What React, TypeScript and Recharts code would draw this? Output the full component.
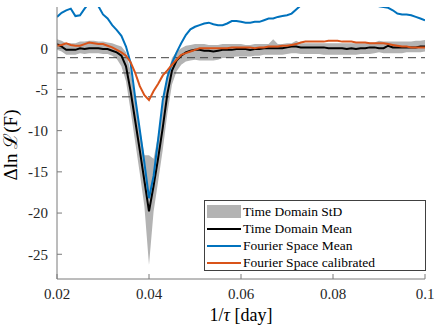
import {
  Area,
  ComposedChart,
  Label,
  Legend,
  Line,
  ReferenceLine,
  XAxis,
  YAxis,
} from "recharts";

// 1/tau grid [day]
const invTau = [
  0.02, 0.021, 0.022, 0.023, 0.024, 0.025, 0.026, 0.027, 0.028, 0.029,
  0.03, 0.031, 0.032, 0.033, 0.034, 0.035, 0.036, 0.037, 0.038, 0.039,
  0.04, 0.041, 0.042, 0.043, 0.044, 0.045, 0.046, 0.047, 0.048, 0.049,
  0.05, 0.051, 0.052, 0.053, 0.054, 0.055, 0.056, 0.057, 0.058, 0.059,
  0.06, 0.061, 0.062, 0.063, 0.064, 0.065, 0.066, 0.067, 0.068, 0.069,
  0.07, 0.071, 0.072, 0.073, 0.074, 0.075, 0.076, 0.077, 0.078, 0.079,
  0.08, 0.081, 0.082, 0.083, 0.084, 0.085, 0.086, 0.087, 0.088, 0.089,
  0.09, 0.091, 0.092, 0.093, 0.094, 0.095, 0.096, 0.097, 0.098, 0.099,
  0.1,
];

const timeDomainMean = [
  0.5, 0.2, -0.2, -0.2, -0.2, 0.0, -0.1, 0.0, 0.0, 0.0,
  -0.1, -0.1, -0.3, -0.5, -0.9, -2.2, -5.2, -8.8, -12.4, -16.1,
  -19.8, -16.7, -13.3, -9.6, -5.5, -2.7, -1.5, -0.9, -0.5, -0.3,
  -0.2, -0.2, -0.3, -0.3, -0.4, -0.3, -0.2, -0.2, -0.2, -0.1,
  -0.1, -0.1, -0.2, -0.1, -0.1, 0.0, 0.0, 0.0, 0.0, 0.0,
  0.1, 0.2, 0.2, 0.1, 0.1, 0.1, 0.1, 0.1, 0.1, 0.0,
  0.0, 0.0, 0.0, -0.1, 0.0, -0.1, 0.0, 0.0, 0.1, 0.1,
  0.0, 0.0, 0.3, 0.1, 0.1, 0.1, 0.1, 0.1, 0.1, 0.2,
  0.2,
];

const timeDomainLow = [
  -0.2, -0.4, -0.8, -0.8, -0.8, -0.6, -0.7, -0.6, -0.6, -0.6,
  -0.7, -0.7, -0.9, -1.3, -2.2, -4.0, -7.6, -11.4, -15.2, -19.2,
  -26.3, -19.8, -16.1, -12.3, -7.9, -4.4, -2.8, -2.0, -1.6, -1.5,
  -1.4, -1.5, -1.5, -1.5, -1.5, -1.4, -1.2, -1.2, -1.1, -1.0,
  -1.0, -1.0, -1.0, -0.9, -0.9, -0.8, -0.8, -0.8, -0.8, -0.8,
  -0.7, -0.6, -0.6, -0.7, -0.7, -0.7, -0.7, -0.7, -0.8, -0.8,
  -0.8, -0.8, -0.8, -0.8, -0.8, -0.8, -0.7, -0.7, -0.7, -0.6,
  -0.5, -0.6, -0.6, -0.6, -0.6, -0.6, -0.5, -0.5, -0.5, -0.5,
  -0.4,
];

const timeDomainHigh = [
  1.1, 0.9, 0.6, 0.6, 0.6, 0.8, 0.8, 0.9, 0.9, 0.8,
  0.8, 0.7, 0.6, 0.4, 0.2, -0.5, -2.8, -6.2, -9.6, -13.0,
  -13.0, -13.4, -10.5, -6.9, -3.1, -1.2, -0.4, 0.0, 0.3, 0.4,
  0.5, 0.5, 0.5, 0.4, 0.4, 0.4, 0.5, 0.5, 0.5, 0.5,
  0.5, 0.4, 0.4, 0.5, 0.5, 0.5, 0.5, 1.1, 0.5, 0.5,
  0.6, 0.6, 0.9, 0.6, 0.6, 0.6, 0.6, 0.6, 0.6, 0.6,
  0.6, 0.6, 0.6, 0.6, 0.6, 0.6, 0.6, 0.6, 0.7, 0.7,
  0.9, 0.8, 0.8, 0.8, 0.8, 0.8, 0.8, 0.8, 0.9, 0.9,
  1.0,
];

const fourierMean = [
  3.8, 4.3, 4.6, 4.8, 3.9, 4.0, 4.8, 5.5, 5.4, 5.1,
  4.1, 3.6, 2.8, 2.2, 1.5, 0.2, -1.8, -6.0, -9.9, -13.9,
  -18.2, -15.5, -11.0, -6.3, -3.5, -1.8, -0.5, 0.6, 1.6, 2.3,
  2.6, 2.8, 3.0, 3.1, 2.9, 2.8, 2.8, 3.0, 3.3, 3.3,
  3.2, 3.1, 3.1, 3.2, 3.2, 3.4, 3.6, 3.6, 3.8, 3.9,
  4.0, 4.2, 4.7, 5.2, 5.6, 5.9, 6.0, 6.1, 6.0, 6.0,
  5.9, 5.9, 5.8, 5.8, 5.7, 5.7, 5.6, 5.5, 5.4, 5.3,
  5.1, 5.0, 4.9, 4.6, 4.2, 4.1, 4.1, 4.0, 3.8, 3.6,
  3.4,
];

const fourierCalibrated = [
  0.3, 0.4, 0.6, 0.4, 0.3, 0.3, 0.5, 0.7, 0.6, 0.5,
  0.5, 0.3, 0.1, -0.2, -0.5, -0.9, -1.7, -3.0, -4.6, -5.7,
  -6.3, -5.2, -4.3, -3.3, -2.7, -2.0, -1.4, -0.8, -0.6, -0.4,
  -0.2, 0.0, 0.0, 0.0, 0.0, 0.0, 0.0, 0.0, 0.1, 0.1,
  0.1, 0.1, 0.1, 0.0, 0.1, 0.1, 0.2, 0.2, 0.2, 0.3,
  0.3, 0.4, 0.5, 0.7, 0.8, 0.8, 0.8, 0.8, 0.8, 0.9,
  0.9, 0.9, 0.8, 0.8, 0.8, 0.7, 0.7, 0.7, 0.6, 0.6,
  0.6, 0.6, 0.5, 0.4, 0.3, 0.2, 0.2, 0.1, 0.1, 0.1,
  0.1,
];

const thresholds = [-1.15, -3, -5.9];

const xTicks = [0.02, 0.04, 0.06, 0.08, 0.1];
const xTickLabels = ["0.02", "0.04", "0.06", "0.08", "0.1"];
const yTicks = [5, 0, -5, -10, -15, -20, -25];

const legendNames = [
  "Time Domain StD",
  "Time Domain Mean",
  "Fourier Space Mean",
  "Fourier Space calibrated",
];
const legendColors = ["#b3b3b3", "#000000", "#0072bd", "#d95319"];

const chartData = invTau.map((x, i) => ({
  x,
  band: [timeDomainLow[i], timeDomainHigh[i]],
  mean: timeDomainMean[i],
  fourier: fourierMean[i],
  calibrated: fourierCalibrated[i],
}));

const serif = "Liberation Serif";
const axisColor = "#7a7a7a";

const XTick = (props: any) => {
  const { x, y, payload } = props;
  const idx = xTicks.indexOf(payload.value);
  return (
    <text
      x={x}
      y={y}
      dy="0.71em"
      textAnchor="middle"
      fontFamily={serif}
      fontSize={15}
      fill="#262626"
    >
      {idx >= 0 ? xTickLabels[idx] : payload.value}
    </text>
  );
};

const YTick = (props: any) => {
  const { x, y, payload } = props;
  return (
    <text
      x={x}
      y={y}
      dy="0.355em"
      textAnchor="end"
      fontFamily={serif}
      fontSize={15}
      fill="#262626"
    >
      {payload.value}
    </text>
  );
};

const renderLegend = () => (
  <div
    style={{
      width: 222,
      height: 71,
      boxSizing: "border-box",
      border: "1px solid #404040",
      background: "#fff",
      paddingTop: 2,
      paddingLeft: 2,
      fontFamily: serif,
      fontSize: 13.5,
      color: "#000",
    }}
  >
    {legendNames.map((name, i) => (
      <div
        key={name}
        style={{ display: "flex", alignItems: "center", height: 17 }}
      >
        <span
          style={{
            display: "inline-block",
            width: 34,
            height: i === 0 ? 13 : 2,
            background: legendColors[i],
          }}
        />
        <span style={{ marginLeft: 2, whiteSpace: "nowrap" }}>{name}</span>
      </div>
    ))}
  </div>
);

export default function App() {
  return (
    <div style={{ position: "absolute", left: 0, top: 0, fontFamily: serif }}>
      <ComposedChart
        width={436}
        height={328}
        data={chartData}
        margin={{ top: 7, right: 11, left: 7, bottom: 19 }}
      >
        <XAxis
          dataKey="x"
          type="number"
          domain={[0.02, 0.1]}
          ticks={xTicks}
          allowDataOverflow
          tickSize={-5}
          tickMargin={14}
          height={30}
          stroke={axisColor}
          tick={<XTick />}
        >
          <Label
            content={() => (
              <text
                x={241}
                y={321}
                textAnchor="middle"
                fontFamily={serif}
                fontSize={18}
                fill="#000"
              >
                1/<tspan fontStyle="italic">τ</tspan> [day]
              </text>
            )}
          />
        </XAxis>
        <XAxis
          xAxisId="top"
          orientation="top"
          type="number"
          domain={[0.02, 0.1]}
          ticks={xTicks}
          allowDataOverflow
          height={0}
          tick={false}
          tickSize={-5}
          stroke={axisColor}
        />
        <YAxis
          type="number"
          domain={[-28, 5]}
          ticks={yTicks}
          allowDataOverflow
          width={50}
          tickSize={-5}
          tickMargin={14}
          stroke={axisColor}
          tick={<YTick />}
        >
          <Label
            content={() => (
              <text
                transform="translate(17,145) rotate(-90)"
                textAnchor="middle"
                fontFamily={serif}
                fontSize={19}
                fill="#000"
              >
                Δln ℒ(F)
              </text>
            )}
          />
        </YAxis>
        <YAxis
          yAxisId="right"
          orientation="right"
          type="number"
          domain={[-28, 5]}
          ticks={yTicks}
          allowDataOverflow
          width={0}
          tick={false}
          tickSize={-5}
          stroke={axisColor}
        />
        <Area
          dataKey="band"
          type="linear"
          stroke="none"
          fill="#b3b3b3"
          fillOpacity={1}
          isAnimationActive={false}
        />
        {thresholds.map((t) => (
          <ReferenceLine
            key={t}
            y={t}
            stroke="#404040"
            strokeDasharray="8 5"
            strokeWidth={1}
          />
        ))}
        <Line
          dataKey="mean"
          type="linear"
          stroke="#000000"
          strokeWidth={2}
          dot={false}
          isAnimationActive={false}
        />
        <Line
          dataKey="fourier"
          type="linear"
          stroke="#0072bd"
          strokeWidth={2}
          dot={false}
          isAnimationActive={false}
        />
        <Line
          dataKey="calibrated"
          type="linear"
          stroke="#d95319"
          strokeWidth={2}
          dot={false}
          isAnimationActive={false}
        />
        <Legend
          content={renderLegend}
          layout="horizontal"
          verticalAlign="middle"
          align="center"
          wrapperStyle={{ left: 204, top: 200, width: 222, height: 71 }}
        />
      </ComposedChart>
    </div>
  );
}
